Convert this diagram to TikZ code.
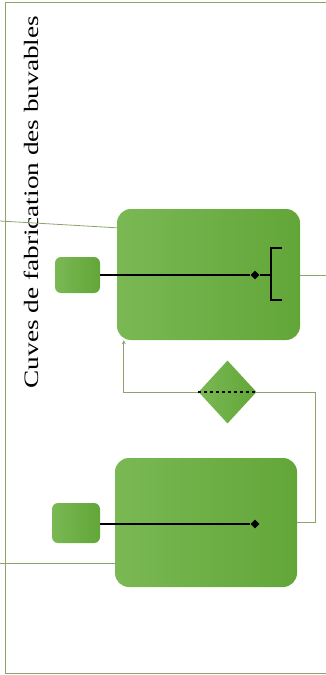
\documentclass[tikz,border=0pt]{standalone}
\usepackage{fontspec}
\setmainfont{Liberation Serif}
\usetikzlibrary{shapes.geometric}
\definecolor{cuveL}{RGB}{122,184,84}
\definecolor{cuveR}{RGB}{98,166,56}
\definecolor{trait}{RGB}{140,164,108}
\tikzset{
  cuve/.style={rectangle,rounded corners=14pt,draw=none,left color=cuveL,right color=cuveR,inner sep=0pt},
  vanne/.style={rectangle,rounded corners=6pt,draw=none,left color=cuveL,right color=cuveR,inner sep=0pt},
  pastille/.style={diamond,fill=black,inner sep=0pt,minimum size=9pt},
  flux/.style={draw=trait,line width=.8pt}
}
\begin{document}
\begin{tikzpicture}[x=1pt,y=-1pt]
\useasboundingbox (0,0) rectangle (326,675);
% Cadre
\draw[trait,line width=1pt] (326,2) -- (5,2) -- (5,673) -- (326,673);
\node[rotate=90,font=\fontsize{20.5}{20}\selectfont,xscale=1.33,transform shape] (titre) at (31,202) {Cuves de fabrication des buvables};
% Cuves
\node[cuve,minimum width=183pt,minimum height=131pt] (cuveA) at (208.5,274.5) {};
\node[cuve,minimum width=182pt,minimum height=129pt] (cuveB) at (206,522.5) {};
\coordinate (boucle) at (315,392);
\draw[flux,-stealth] (cuveB.east) -| (boucle) -| ([xshift=7pt]cuveA.south west);
\node[diamond,left color=cuveL,right color=cuveR,inner sep=0pt,minimum width=58pt,minimum height=63pt] (porte) at (227.5,392) {};
\draw[dashed,line width=1.3pt] (porte.west) -- (porte.east);
% Vannes
\node[vanne,minimum width=45pt,minimum height=36pt] (vanneA) at (77.5,275) {};
\node[vanne,minimum width=48pt,minimum height=40pt] (vanneB) at (76,523) {};
\node[pastille] (ptA) at (255,275) {};
\node[pastille] (ptB) at (255,524) {};
\coordinate (crochet) at (271,275);
\draw[line width=1.3pt] (vanneA.east) -- (ptA) -- (crochet);
\draw[line width=1.3pt] (282,248) -- (271,248) -- (271,300) -- (282,300);
\draw[line width=1.3pt] (vanneB.east |- ptB) -- (ptB);
% Entrees et sortie
\coordinate (entreeA) at (0,221);
\coordinate (entreeB) at (0,563);
\coordinate (sortieA) at (326,275);
\draw[flux] (entreeA) -- ([yshift=-19pt]cuveA.north west);
\draw[flux] (entreeB) -- (entreeB -| cuveB.west);
\draw[flux] (cuveA.east |- sortieA) -- (sortieA);
\end{tikzpicture}
\end{document}
